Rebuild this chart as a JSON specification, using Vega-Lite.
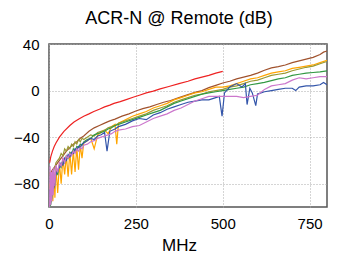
{
  "$schema": "https://vega.github.io/schema/vega-lite/v6.json",
  "autosize": {"type": "none"},
  "padding": {"left": 49, "top": 44, "right": 11, "bottom": 46},
  "width": 278,
  "height": 163,
  "background": "white",
  "title": {"text": "ACR-N @ Remote (dB)", "fontSize": 18, "fontWeight": "normal", "font": "Liberation Sans", "color": "black", "offset": 9, "dx": -9},
  "config": {
    "font": "Liberation Sans",
    "view": {"stroke": "#555555", "strokeWidth": 1.5},
    "axis": {"domain": false, "ticks": false, "grid": true, "gridDash": [1, 2], "gridColor": "#aaaaaa", "gridWidth": 1, "labelColor": "black", "labelFontSize": 15, "titleFontSize": 17, "titleFontWeight": "normal", "titleColor": "black"}
  },
  "data": {"values": [
    {"s":"red","f":2,"v":-62},{"s":"red","f":5,"v":-57},{"s":"red","f":10,"v":-52},{"s":"red","f":15,"v":-48},{"s":"red","f":20,"v":-45},{"s":"red","f":30,"v":-40},{"s":"red","f":43,"v":-35},{"s":"red","f":60,"v":-30},{"s":"red","f":72,"v":-27},{"s":"red","f":86,"v":-24.5},{"s":"red","f":100,"v":-22},{"s":"red","f":115,"v":-20},{"s":"red","f":129,"v":-18},{"s":"red","f":145,"v":-16},{"s":"red","f":160,"v":-14},{"s":"red","f":175,"v":-12.5},{"s":"red","f":187,"v":-11},{"s":"red","f":205,"v":-9.5},{"s":"red","f":220,"v":-8},{"s":"red","f":244,"v":-5.5},{"s":"red","f":260,"v":-4},{"s":"red","f":280,"v":-2},{"s":"red","f":300,"v":-0.5},{"s":"red","f":320,"v":1.5},{"s":"red","f":345,"v":3.5},{"s":"red","f":374,"v":6},{"s":"red","f":400,"v":8},{"s":"red","f":420,"v":10},{"s":"red","f":440,"v":11.5},{"s":"red","f":460,"v":13},{"s":"red","f":480,"v":15},{"s":"red","f":500,"v":16.5},

    {"s":"brown","f":2,"v":-72},{"s":"brown","f":10,"v":-68},{"s":"brown","f":20,"v":-64},{"s":"brown","f":30,"v":-60},{"s":"brown","f":40,"v":-56},{"s":"brown","f":50,"v":-52},{"s":"brown","f":60,"v":-49},{"s":"brown","f":70,"v":-46},{"s":"brown","f":80,"v":-44},{"s":"brown","f":90,"v":-41},{"s":"brown","f":100,"v":-39},{"s":"brown","f":115,"v":-35},{"s":"brown","f":130,"v":-32},{"s":"brown","f":145,"v":-30},{"s":"brown","f":160,"v":-28},{"s":"brown","f":175,"v":-26},{"s":"brown","f":190,"v":-24.5},{"s":"brown","f":210,"v":-22},{"s":"brown","f":230,"v":-20},{"s":"brown","f":250,"v":-17.5},{"s":"brown","f":270,"v":-15.5},{"s":"brown","f":290,"v":-14},{"s":"brown","f":310,"v":-12},{"s":"brown","f":330,"v":-10},{"s":"brown","f":350,"v":-8.5},{"s":"brown","f":374,"v":-6},{"s":"brown","f":400,"v":-3.5},{"s":"brown","f":420,"v":-1.5},{"s":"brown","f":440,"v":0},{"s":"brown","f":460,"v":2.5},{"s":"brown","f":480,"v":4.5},{"s":"brown","f":500,"v":6.5},{"s":"brown","f":520,"v":8},{"s":"brown","f":540,"v":10},{"s":"brown","f":560,"v":11.5},{"s":"brown","f":580,"v":13},{"s":"brown","f":600,"v":15},{"s":"brown","f":620,"v":17.5},{"s":"brown","f":640,"v":19.5},{"s":"brown","f":660,"v":20.5},{"s":"brown","f":680,"v":22},{"s":"brown","f":700,"v":24},{"s":"brown","f":720,"v":25.5},{"s":"brown","f":740,"v":27},{"s":"brown","f":760,"v":28.5},{"s":"brown","f":780,"v":31},{"s":"brown","f":790,"v":33},{"s":"brown","f":800,"v":34},

    {"s":"orange","f":2,"v":-80},{"s":"orange","f":5,"v":-90},{"s":"orange","f":8,"v":-75},{"s":"orange","f":11,"v":-95},{"s":"orange","f":14,"v":-70},{"s":"orange","f":17,"v":-92},{"s":"orange","f":20,"v":-66},{"s":"orange","f":25,"v":-88},{"s":"orange","f":30,"v":-62},{"s":"orange","f":35,"v":-80},{"s":"orange","f":40,"v":-58},{"s":"orange","f":45,"v":-72},{"s":"orange","f":50,"v":-56},{"s":"orange","f":55,"v":-74},{"s":"orange","f":60,"v":-53},{"s":"orange","f":65,"v":-72},{"s":"orange","f":70,"v":-52},{"s":"orange","f":75,"v":-70},{"s":"orange","f":80,"v":-49},{"s":"orange","f":85,"v":-68},{"s":"orange","f":90,"v":-47},{"s":"orange","f":95,"v":-58},{"s":"orange","f":100,"v":-45},{"s":"orange","f":110,"v":-43},{"s":"orange","f":120,"v":-41},{"s":"orange","f":130,"v":-50},{"s":"orange","f":140,"v":-38},{"s":"orange","f":150,"v":-36},{"s":"orange","f":160,"v":-34},{"s":"orange","f":170,"v":-37},{"s":"orange","f":180,"v":-31},{"s":"orange","f":190,"v":-29},{"s":"orange","f":195,"v":-46},{"s":"orange","f":200,"v":-28},{"s":"orange","f":220,"v":-25},{"s":"orange","f":240,"v":-22},{"s":"orange","f":260,"v":-20},{"s":"orange","f":280,"v":-18},{"s":"orange","f":300,"v":-15},{"s":"orange","f":320,"v":-13},{"s":"orange","f":340,"v":-11},{"s":"orange","f":360,"v":-8},{"s":"orange","f":380,"v":-6},{"s":"orange","f":400,"v":-4},{"s":"orange","f":420,"v":-2},{"s":"orange","f":440,"v":-1},{"s":"orange","f":460,"v":1},{"s":"orange","f":480,"v":3},{"s":"orange","f":500,"v":3},{"s":"orange","f":520,"v":4},{"s":"orange","f":540,"v":6},{"s":"orange","f":560,"v":8},{"s":"orange","f":580,"v":10},{"s":"orange","f":600,"v":11},{"s":"orange","f":620,"v":13},{"s":"orange","f":640,"v":15},{"s":"orange","f":660,"v":16},{"s":"orange","f":680,"v":17},{"s":"orange","f":700,"v":19},{"s":"orange","f":720,"v":20},{"s":"orange","f":740,"v":21},{"s":"orange","f":760,"v":22},{"s":"orange","f":780,"v":24},{"s":"orange","f":800,"v":26},

    {"s":"olive","f":2,"v":-70},{"s":"olive","f":5,"v":-75},{"s":"olive","f":8,"v":-78},{"s":"olive","f":11,"v":-72},{"s":"olive","f":14,"v":-68},{"s":"olive","f":17,"v":-66},{"s":"olive","f":20,"v":-62},{"s":"olive","f":25,"v":-60},{"s":"olive","f":30,"v":-58},{"s":"olive","f":35,"v":-54},{"s":"olive","f":40,"v":-56},{"s":"olive","f":45,"v":-50},{"s":"olive","f":50,"v":-52},{"s":"olive","f":55,"v":-48},{"s":"olive","f":60,"v":-50},{"s":"olive","f":65,"v":-46},{"s":"olive","f":70,"v":-48},{"s":"olive","f":75,"v":-44},{"s":"olive","f":80,"v":-46},{"s":"olive","f":85,"v":-42},{"s":"olive","f":90,"v":-44},{"s":"olive","f":95,"v":-41},{"s":"olive","f":100,"v":-42},{"s":"olive","f":110,"v":-40},{"s":"olive","f":120,"v":-38},{"s":"olive","f":130,"v":-39},{"s":"olive","f":140,"v":-36},{"s":"olive","f":150,"v":-35},{"s":"olive","f":160,"v":-34},{"s":"olive","f":170,"v":-32},{"s":"olive","f":180,"v":-31},{"s":"olive","f":190,"v":-30},{"s":"olive","f":200,"v":-28},{"s":"olive","f":220,"v":-26},{"s":"olive","f":240,"v":-24},{"s":"olive","f":260,"v":-22},{"s":"olive","f":280,"v":-20},{"s":"olive","f":300,"v":-17},{"s":"olive","f":320,"v":-15},{"s":"olive","f":340,"v":-13},{"s":"olive","f":360,"v":-10},{"s":"olive","f":380,"v":-8},{"s":"olive","f":400,"v":-6},{"s":"olive","f":420,"v":-4},{"s":"olive","f":440,"v":-3},{"s":"olive","f":460,"v":-1},{"s":"olive","f":480,"v":0},{"s":"olive","f":500,"v":1},{"s":"olive","f":520,"v":3},{"s":"olive","f":540,"v":4},{"s":"olive","f":560,"v":6},{"s":"olive","f":580,"v":8},{"s":"olive","f":600,"v":9},{"s":"olive","f":620,"v":11},{"s":"olive","f":640,"v":13},{"s":"olive","f":660,"v":14},{"s":"olive","f":680,"v":15},{"s":"olive","f":700,"v":17},{"s":"olive","f":720,"v":18.5},{"s":"olive","f":740,"v":20},{"s":"olive","f":760,"v":21},{"s":"olive","f":780,"v":23},{"s":"olive","f":800,"v":25},

    {"s":"green","f":2,"v":-100},{"s":"green","f":5,"v":-98},{"s":"green","f":8,"v":-92},{"s":"green","f":11,"v":-85},{"s":"green","f":14,"v":-78},{"s":"green","f":17,"v":-80},{"s":"green","f":20,"v":-70},{"s":"green","f":25,"v":-72},{"s":"green","f":30,"v":-64},{"s":"green","f":35,"v":-66},{"s":"green","f":40,"v":-60},{"s":"green","f":45,"v":-62},{"s":"green","f":50,"v":-56},{"s":"green","f":55,"v":-58},{"s":"green","f":60,"v":-53},{"s":"green","f":65,"v":-55},{"s":"green","f":70,"v":-50},{"s":"green","f":75,"v":-52},{"s":"green","f":80,"v":-48},{"s":"green","f":85,"v":-49},{"s":"green","f":90,"v":-46},{"s":"green","f":95,"v":-47},{"s":"green","f":100,"v":-44},{"s":"green","f":110,"v":-42},{"s":"green","f":120,"v":-41},{"s":"green","f":130,"v":-38},{"s":"green","f":140,"v":-37},{"s":"green","f":150,"v":-36},{"s":"green","f":160,"v":-35},{"s":"green","f":170,"v":-33},{"s":"green","f":180,"v":-32},{"s":"green","f":190,"v":-30},{"s":"green","f":200,"v":-29},{"s":"green","f":220,"v":-27},{"s":"green","f":240,"v":-25},{"s":"green","f":260,"v":-23},{"s":"green","f":280,"v":-21},{"s":"green","f":300,"v":-19},{"s":"green","f":320,"v":-17},{"s":"green","f":340,"v":-14},{"s":"green","f":360,"v":-11},{"s":"green","f":380,"v":-9},{"s":"green","f":400,"v":-7},{"s":"green","f":420,"v":-5},{"s":"green","f":440,"v":-3},{"s":"green","f":460,"v":-2},{"s":"green","f":480,"v":-1},{"s":"green","f":500,"v":0},{"s":"green","f":520,"v":1},{"s":"green","f":540,"v":2},{"s":"green","f":560,"v":3},{"s":"green","f":580,"v":5},{"s":"green","f":600,"v":6},{"s":"green","f":620,"v":7},{"s":"green","f":640,"v":8.5},{"s":"green","f":660,"v":10},{"s":"green","f":680,"v":11},{"s":"green","f":700,"v":13},{"s":"green","f":720,"v":14},{"s":"green","f":740,"v":15},{"s":"green","f":760,"v":15.5},{"s":"green","f":780,"v":16},{"s":"green","f":800,"v":17},

    {"s":"blue","f":2,"v":-85},{"s":"blue","f":5,"v":-95},{"s":"blue","f":8,"v":-88},{"s":"blue","f":11,"v":-80},{"s":"blue","f":14,"v":-84},{"s":"blue","f":17,"v":-74},{"s":"blue","f":20,"v":-72},{"s":"blue","f":25,"v":-68},{"s":"blue","f":30,"v":-66},{"s":"blue","f":35,"v":-62},{"s":"blue","f":40,"v":-64},{"s":"blue","f":45,"v":-58},{"s":"blue","f":50,"v":-60},{"s":"blue","f":55,"v":-55},{"s":"blue","f":60,"v":-57},{"s":"blue","f":65,"v":-53},{"s":"blue","f":70,"v":-54},{"s":"blue","f":75,"v":-50},{"s":"blue","f":80,"v":-51},{"s":"blue","f":85,"v":-48},{"s":"blue","f":90,"v":-49},{"s":"blue","f":95,"v":-46},{"s":"blue","f":100,"v":-45},{"s":"blue","f":110,"v":-43},{"s":"blue","f":120,"v":-41},{"s":"blue","f":130,"v":-42},{"s":"blue","f":140,"v":-39},{"s":"blue","f":150,"v":-38},{"s":"blue","f":160,"v":-36},{"s":"blue","f":167,"v":-52},{"s":"blue","f":175,"v":-35},{"s":"blue","f":190,"v":-33},{"s":"blue","f":200,"v":-31},{"s":"blue","f":220,"v":-29},{"s":"blue","f":240,"v":-26},{"s":"blue","f":260,"v":-24},{"s":"blue","f":280,"v":-25},{"s":"blue","f":300,"v":-21},{"s":"blue","f":320,"v":-19},{"s":"blue","f":340,"v":-16},{"s":"blue","f":360,"v":-14},{"s":"blue","f":380,"v":-12},{"s":"blue","f":400,"v":-10},{"s":"blue","f":420,"v":-9},{"s":"blue","f":440,"v":-8},{"s":"blue","f":460,"v":-8},{"s":"blue","f":480,"v":-6},{"s":"blue","f":490,"v":-5},{"s":"blue","f":498,"v":-22},{"s":"blue","f":505,"v":-2},{"s":"blue","f":520,"v":3},{"s":"blue","f":540,"v":6},{"s":"blue","f":555,"v":3},{"s":"blue","f":565,"v":6},{"s":"blue","f":570,"v":-12},{"s":"blue","f":578,"v":2},{"s":"blue","f":585,"v":-2},{"s":"blue","f":595,"v":-13},{"s":"blue","f":600,"v":-3},{"s":"blue","f":620,"v":-1},{"s":"blue","f":640,"v":0},{"s":"blue","f":660,"v":1},{"s":"blue","f":680,"v":2},{"s":"blue","f":700,"v":2},{"s":"blue","f":710,"v":0},{"s":"blue","f":720,"v":3},{"s":"blue","f":740,"v":4},{"s":"blue","f":760,"v":4},{"s":"blue","f":780,"v":5},{"s":"blue","f":790,"v":7},{"s":"blue","f":800,"v":5},

    {"s":"pink","f":2,"v":-100},{"s":"pink","f":3,"v":-65},{"s":"pink","f":5,"v":-98},{"s":"pink","f":6,"v":-70},{"s":"pink","f":8,"v":-95},{"s":"pink","f":10,"v":-68},{"s":"pink","f":12,"v":-90},{"s":"pink","f":14,"v":-66},{"s":"pink","f":17,"v":-82},{"s":"pink","f":20,"v":-64},{"s":"pink","f":25,"v":-70},{"s":"pink","f":30,"v":-62},{"s":"pink","f":35,"v":-65},{"s":"pink","f":40,"v":-58},{"s":"pink","f":45,"v":-62},{"s":"pink","f":50,"v":-56},{"s":"pink","f":55,"v":-58},{"s":"pink","f":60,"v":-54},{"s":"pink","f":65,"v":-56},{"s":"pink","f":70,"v":-52},{"s":"pink","f":75,"v":-54},{"s":"pink","f":80,"v":-50},{"s":"pink","f":85,"v":-52},{"s":"pink","f":90,"v":-49},{"s":"pink","f":95,"v":-50},{"s":"pink","f":100,"v":-47},{"s":"pink","f":110,"v":-46},{"s":"pink","f":120,"v":-44},{"s":"pink","f":130,"v":-43},{"s":"pink","f":140,"v":-41},{"s":"pink","f":150,"v":-40},{"s":"pink","f":160,"v":-39},{"s":"pink","f":170,"v":-38},{"s":"pink","f":180,"v":-37},{"s":"pink","f":190,"v":-35},{"s":"pink","f":200,"v":-34},{"s":"pink","f":220,"v":-33},{"s":"pink","f":240,"v":-31},{"s":"pink","f":260,"v":-30},{"s":"pink","f":280,"v":-27},{"s":"pink","f":300,"v":-24},{"s":"pink","f":320,"v":-22},{"s":"pink","f":340,"v":-20},{"s":"pink","f":360,"v":-17},{"s":"pink","f":380,"v":-15},{"s":"pink","f":400,"v":-12},{"s":"pink","f":420,"v":-9},{"s":"pink","f":440,"v":-7},{"s":"pink","f":460,"v":-5},{"s":"pink","f":480,"v":-5},{"s":"pink","f":500,"v":-5},{"s":"pink","f":520,"v":-5},{"s":"pink","f":540,"v":-5},{"s":"pink","f":560,"v":-6},{"s":"pink","f":580,"v":-5},{"s":"pink","f":600,"v":-4},{"s":"pink","f":620,"v":1},{"s":"pink","f":640,"v":4},{"s":"pink","f":660,"v":5},{"s":"pink","f":680,"v":6},{"s":"pink","f":700,"v":9},{"s":"pink","f":720,"v":11},{"s":"pink","f":740,"v":10},{"s":"pink","f":760,"v":11},{"s":"pink","f":780,"v":12},{"s":"pink","f":800,"v":12}
  ]},
  "mark": {"type": "line", "strokeWidth": 1.2, "clip": true},
  "encoding": {
    "x": {"field": "f", "type": "quantitative", "scale": {"domain": [0, 800], "nice": false, "zero": false},
          "axis": {"values": [0, 250, 500, 750], "title": "MHz", "labelPadding": 9, "titlePadding": 6, "titleX": 130, "labelFlush": false}},
    "y": {"field": "v", "type": "quantitative", "scale": {"domain": [-100, 40], "nice": false, "zero": false},
          "axis": {"values": [-80, -40, 0, 40], "title": null, "labelPadding": 10, "labelFlush": false}},
    "color": {"field": "s", "type": "nominal", "legend": null,
              "scale": {"domain": ["red", "brown", "orange", "olive", "green", "blue", "pink"],
                        "range": ["#ee2222", "#a0522d", "#ffa500", "#999933", "#339944", "#3355aa", "#cc77cc"]}}
  }
}
